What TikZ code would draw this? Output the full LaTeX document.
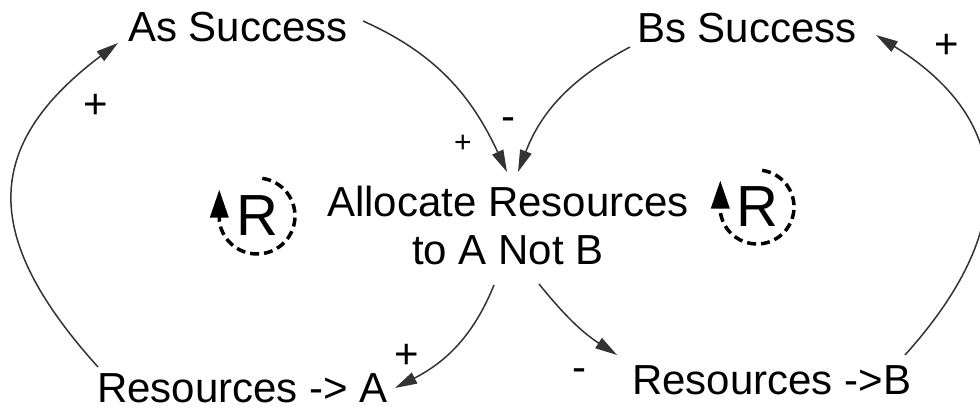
\documentclass[tikz,border=0pt]{standalone}
\usepackage{fontspec}
\setmainfont{Liberation Sans}
\usetikzlibrary{arrows.meta,calc}
\begin{document}
\begin{tikzpicture}[x=1pt,y=1pt,
  lbl/.style={inner sep=0pt, font=\fontsize{42}{48}\selectfont},
  pol/.style={inner sep=0pt, anchor=base, font=\fontsize{42}{48}\selectfont},
  polsmall/.style={inner sep=0pt, anchor=base, font=\fontsize{30}{34}\selectfont},
  link/.style={line width=1.5pt, draw=black!80, -{Triangle[length=22pt,width=12pt]}},
  loopc/.style={line width=3.5pt, dash pattern=on 9pt off 5pt, -{Triangle[length=28pt,width=18pt]}},
  rlet/.style={inner sep=0pt, font=\fontsize{58}{60}\selectfont}]
\useasboundingbox[fill=white] (0,0) rectangle (980,412);

% variable names
\node[lbl, anchor=base west] (as) at (128,370) {As Success};
\node[lbl, anchor=base west] (bs) at (637,369) {Bs Success};
\node[lbl, anchor=base, align=center] (alloc) at (508,147) {Allocate Resources\\to A Not B};
\node[lbl, anchor=base west] (ra) at (97,9) {Resources -> A};
\node[lbl, anchor=base west] (rb) at (632,17) {Resources ->B};

% loop markers
\node[rlet] (rl) at (257,196) {R};
\node[rlet] (rr) at (757,205) {R};
\draw[loopc] ($(rl.center)+(82:38)$) arc[start angle=82, end angle=-173, radius=38] -- ++(0,31);
\draw[loopc] ($(rr.center)+(82:37)$) arc[start angle=82, end angle=-173, radius=37] -- ++(0,31);

% links
\draw[link] ($(as.base west)+(235,21)$) to[out=-24, in=115] ($(alloc.base)+(-1,93)$);
\draw[link] ($(bs.base west)+(-7,-4)$) to[out=208, in=69] ($(alloc.base)+(10,93)$);
\draw[link] ($(alloc.base)+(-14,-20)$) to[out=248, in=27] ($(ra.base west)+(298,15)$);
\draw[link] ($(alloc.base)+(31,-19)$) to[out=-51, in=147] ($(rb.base west)+(-15,40)$);
\draw[link] ($(ra.base west)+(1,36)$) to[out=132, in=217, looseness=1.36] ($(as.base west)+(-10,-1)$);
\draw[link] ($(rb.base west)+(273,40)$) to[out=48, in=-32, looseness=1.32] ($(bs.base west)+(239,8)$);

% polarities
\node[pol] (p1) at (96,293) {+};
\node[pol] (p2) at (508,281) {-};
\node[polsmall] (p3) at (463,259.5) {+};
\node[pol] (p4) at (947,353) {+};
\node[pol] (p5) at (407,43) {+};
\node[pol] (p6) at (579,30) {-};
\end{tikzpicture}
\end{document}
